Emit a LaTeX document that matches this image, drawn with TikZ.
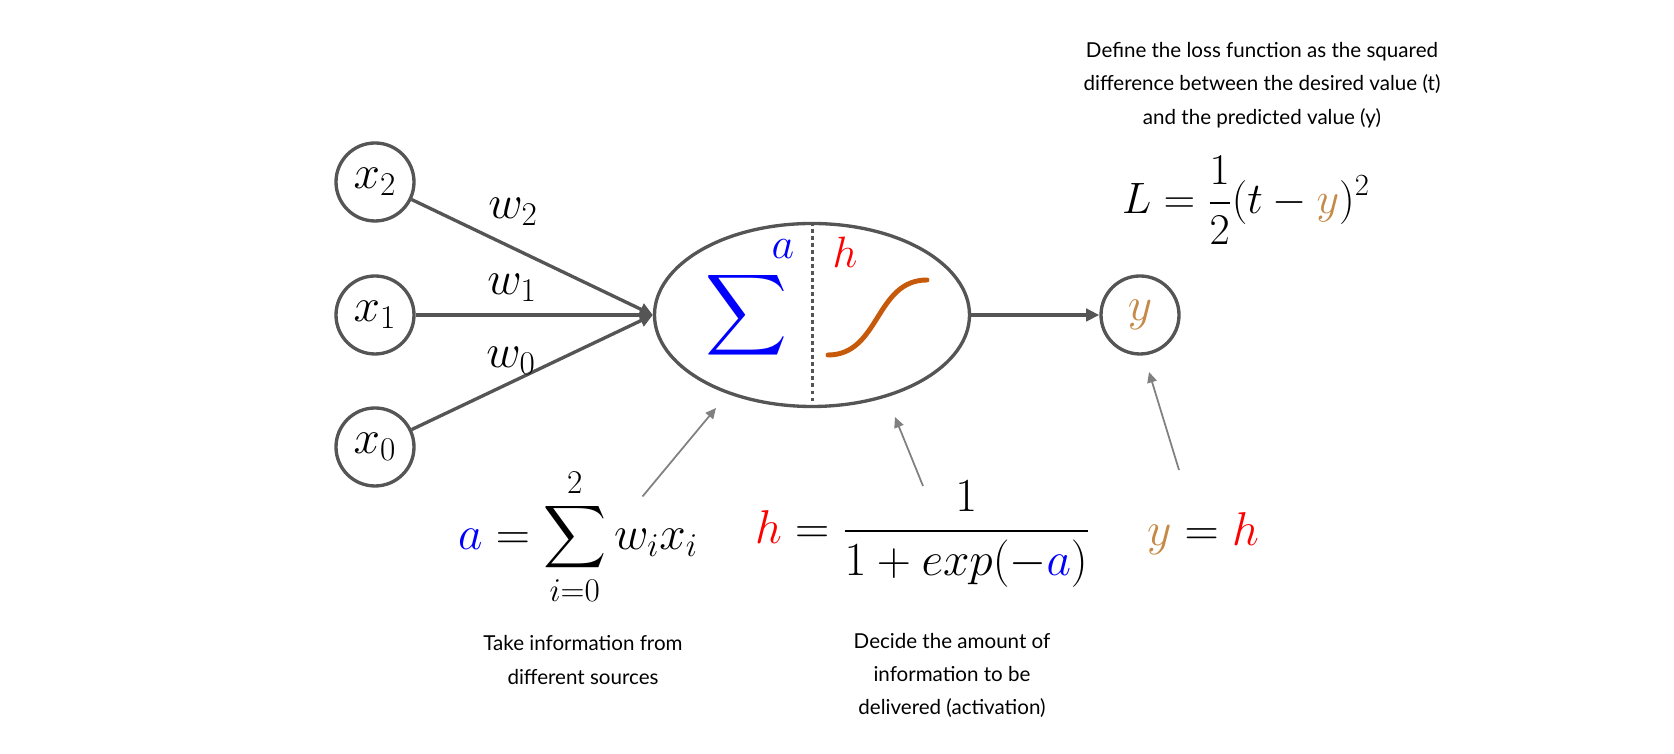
\RequirePackage{fix-cm}
\documentclass[tikz,border=0pt]{standalone}
\usepackage{amsmath}
\usepackage{fontspec}
\setmainfont{Lato}
\usetikzlibrary{shapes.geometric,arrows.meta}
\definecolor{edgegray}{RGB}{85,85,85}
\definecolor{notegray}{RGB}{128,128,128}
\definecolor{sumblue}{RGB}{0,0,255}
\definecolor{actred}{RGB}{255,0,0}
\definecolor{outbrown}{RGB}{198,138,72}
\definecolor{curveorange}{RGB}{199,89,10}

\begin{document}
\begin{tikzpicture}[
    unitcircle/.style={circle, draw=edgegray, line width=1.9pt, minimum size=1.56cm,
      inner sep=0pt, font=\fontsize{27}{32}\selectfont},
    wire/.style={edgegray, line width=1.9pt, -{Triangle[length=7.5pt,width=7pt]}},
    pointer/.style={notegray, line width=1pt, -{Triangle[length=6pt,width=5.5pt]}},
    mathlabel/.style={font=\fontsize{27}{32}\selectfont, inner sep=1pt},
    note/.style={font=\fontsize{11.7}{19}\selectfont, align=center}]
    % page frame, 1cm = 50px of the original figure
    \useasboundingbox (0,0) rectangle (33.48,15.08);

    % inputs, cell and output
    \node[unitcircle] (x2) at (7.50,11.44) {$x_2$};
    \node[unitcircle] (x1) at (7.50,8.78) {$x_1$};
    \node[unitcircle] (x0) at (7.50,6.14) {$x_0$};
    \node[ellipse, draw=edgegray, line width=1.9pt, minimum width=6.3cm,
      minimum height=3.66cm, inner sep=0pt] (cell) at (16.24,8.78) {};
    \node[unitcircle] (y) at (22.80,8.78) {$\color{outbrown}y$};

    \draw[wire] (x2) -- (cell.west);
    \draw[wire] (x1) -- (cell.west);
    \draw[wire] (x0) -- (cell.west);
    \draw[wire] (cell) -- (y);
    \node[mathlabel] (w2) at (10.26,10.84) {$w_2$};
    \node[mathlabel] (w1) at (10.24,9.32) {$w_1$};
    \node[mathlabel] (w0) at (10.22,7.86) {$w_0$};

    % inside the cell: sum | activation
    \draw[edgegray, line width=1.7pt, dash pattern=on 2.2pt off 1.8pt] (cell.north) -- (cell.south);
    \node[text=sumblue, inner sep=0pt, font=\fontsize{27}{32}\selectfont] (sigma) at (14.94,8.78)
      {\scalebox{1.3}{$\displaystyle\sum$}};
    \node[text=sumblue, inner sep=0pt, font=\fontsize{25}{30}\selectfont] (alab) at (15.66,10.10) {$a$};
    \node[text=actred, inner sep=0pt, font=\fontsize{25}{30}\selectfont] (hlab) at (16.90,10.04) {$h$};
    \draw[curveorange, line width=2.8pt, line cap=round]
      (16.56,7.98) .. controls (17.6,7.98) and (17.5,9.48) .. (18.54,9.48);

    % formulas
    \node[mathlabel] (suma) at (11.56,4.34)
      {$\displaystyle {\color{sumblue}a} = \sum_{i=0}^{2} w_i x_i$};
    \node[mathlabel] (acth) at (18.45,4.40)
      {$\displaystyle {\color{actred}h} = \frac{1}{1+exp(-{\color{sumblue}a})}$};
    \node[mathlabel] (outy) at (24.06,4.40)
      {$\displaystyle {\color{outbrown}y} = {\color{actred}h}$};
    \node[font=\fontsize{25}{30}\selectfont] (loss) at (24.92,11.08)
      {$\displaystyle L = \frac{1}{2}(t-{\color{outbrown}y})^2$};

    % notes
    \node[note] (takenote) at (11.66,1.88) {Take information from\\different sources};
    \node[note] (decidenote) at (19.04,1.57)
      {Decide the amount of\\information to be\\delivered (activation)};
    \node[note] (lossnote) at (25.24,13.38)
      {Define the loss function as the squared\\difference between the desired value (t)\\and the predicted value (y)};

    % pointers from the formulas
    \coordinate (sumfrom) at (12.85,5.15);
    \coordinate (sumto) at (14.32,6.92);
    \coordinate (actfrom) at (18.46,5.36);
    \coordinate (actto) at (17.90,6.74);
    \coordinate (outfrom) at (23.58,5.68);
    \coordinate (outto) at (22.98,7.64);
    \draw[pointer] (sumfrom) -- (sumto);
    \draw[pointer] (actfrom) -- (actto);
    \draw[pointer] (outfrom) -- (outto);
  \end{tikzpicture}
\end{document}
